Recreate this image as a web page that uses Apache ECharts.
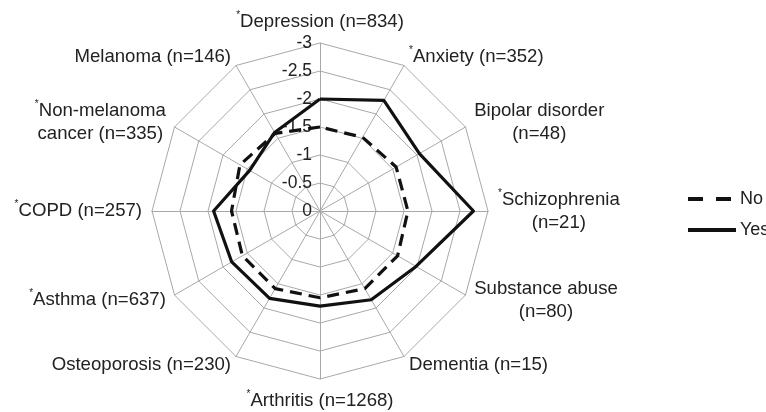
<!DOCTYPE html>
<html>
<head>
<meta charset="utf-8">
<script src="https://cdn.jsdelivr.net/npm/echarts@6/dist/echarts.min.js"></script>
<style>
  html, body { margin: 0; padding: 0; background: #fff; }
  #chart { width: 766px; height: 412px; }
</style>
</head>
<body>
<div id="chart"></div>
<script>
// categories clockwise from the top, '*' = significant, '\n' = line break
const categories = [
  '*Depression (n=834)',
  '*Anxiety (n=352)',
  'Bipolar disorder\n(n=48)',
  '*Schizophrenia\n(n=21)',
  'Substance abuse\n(n=80)',
  'Dementia (n=15)',
  '*Arthritis (n=1268)',
  'Osteoporosis (n=230)',
  '*Asthma (n=637)',
  '*COPD (n=257)',
  '*Non-melanoma\ncancer (n=335)',
  'Melanoma (n=146)'
];
const noValues = [-1.5, -1.52, -1.57, -1.57, -1.6, -1.6, -1.55, -1.6, -1.6, -1.58, -1.65, -1.6];
const yesValues = [-2.0, -2.28, -2.05, -2.74, -1.98, -1.83, -1.7, -1.8, -1.82, -1.9, -1.45, -1.62];
const axisTicks = [0, -0.5, -1, -1.5, -2, -2.5, -3];

// echarts radar runs counter-clockwise, so keep the first item and flip the rest
const ccw = arr => [arr[0]].concat(arr.slice(1).reverse());
const mag = arr => arr.map(v => Math.abs(v));
const maxVal = Math.abs(axisTicks[axisTicks.length - 1]);

const fmtName = (name) => name.split('\n').map(line => {
  if (line.charAt(0) === '*') return '{s|*}{t|' + line.slice(1) + '}';
  return '{t|' + line + '}';
}).join('\n');

const indicators = ccw(categories).map((name, i) => {
  const ind = { name: name, min: 0, max: maxVal };
  if (i === 0) {
    ind.axisLabel = {
      show: true,
      color: '#222',
      fontSize: 17.5,
      fontFamily: 'Liberation Sans',
      margin: 8,
      formatter: v => (v === 0 ? '0' : String(-v))
    };
  }
  return ind;
});

const chart = echarts.init(document.getElementById('chart'));
chart.setOption({
  animation: false,
  legend: {
    orient: 'vertical',
    left: 683,
    top: 185,
    itemWidth: 48,
    itemHeight: 4,
    itemGap: 13,
    itemStyle: { borderWidth: 0 },
    textStyle: { fontSize: 18, fontFamily: 'Liberation Sans', color: '#222', padding: [0, 0, 0, -1] },
    data: [
      { name: 'No', icon: 'path://M0,0H15V4H0Z M28,0H43V4H28Z M48,0L48,4' },
      { name: 'Yes', icon: 'rect' }
    ]
  },
  radar: {
    center: [320, 211],
    radius: 168,
    startAngle: 90,
    shape: 'polygon',
    splitNumber: 6,
    indicator: indicators,
    axisName: {
      color: '#222',
      formatter: fmtName,
      rich: {
        t: { fontSize: 18.6, fontFamily: 'Liberation Sans', color: '#222', align: 'center', lineHeight: 23 },
        s: { fontSize: 10, fontFamily: 'Liberation Sans', color: '#222', align: 'center', verticalAlign: 'top', lineHeight: 23 }
      }
    },
    nameGap: 10,
    axisLine: { lineStyle: { color: '#a8a8a8', width: 1 } },
    splitLine: { lineStyle: { color: '#a8a8a8', width: 1 } },
    splitArea: { show: false },
    axisTick: { show: false },
    axisLabel: { show: false }
  },
  series: [{
    type: 'radar',
    symbol: 'none',
    data: [
      {
        name: 'No',
        value: mag(ccw(noValues)),
        itemStyle: { color: '#111' },
        lineStyle: { color: '#111', width: 3.2, type: [12, 7] }
      },
      {
        name: 'Yes',
        value: mag(ccw(yesValues)),
        itemStyle: { color: '#111' },
        lineStyle: { color: '#111', width: 3.2, type: 'solid' }
      }
    ]
  }]
});
</script>
</body>
</html>
